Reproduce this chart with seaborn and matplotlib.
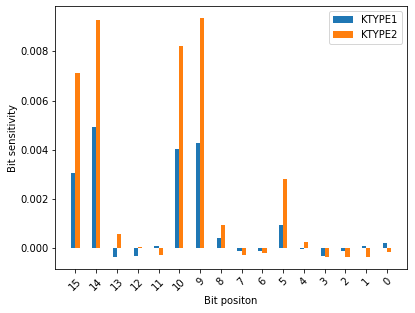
import matplotlib
matplotlib.use("Agg")
import matplotlib.pyplot as plt
import seaborn as sns
import pandas as pd

bits = ["15", "14", "13", "12", "11", "10", "9", "8", "7", "6", "5", "4", "3", "2", "1", "0"]
ktype1 = [3.05e-3, 4.92e-3, -0.37e-3, -0.30e-3, 0.08e-3, 4.02e-3, 4.27e-3, 0.42e-3,
          -0.13e-3, -0.11e-3, 0.95e-3, -0.05e-3, -0.31e-3, -0.12e-3, 0.07e-3, 0.19e-3]
ktype2 = [7.13e-3, 9.26e-3, 0.58e-3, 0.05e-3, -0.26e-3, 8.2e-3, 9.34e-3, 0.95e-3,
          -0.26e-3, -0.19e-3, 2.82e-3, 0.23e-3, -0.37e-3, -0.34e-3, -0.34e-3, -0.16e-3]
series = ["KTYPE1", "KTYPE2"]

df = pd.DataFrame({
    "bit": bits * 2,
    "value": ktype1 + ktype2,
    "series": [series[0]] * len(bits) + [series[1]] * len(bits),
})

DPI = 72
fig, ax = plt.subplots(figsize=(415 / DPI, 313 / DPI), dpi=DPI)
fig.subplots_adjust(left=55.3 / 415, right=406.7 / 415, top=1 - 6.3 / 313, bottom=1 - 269.3 / 313)

sns.barplot(data=df, x="bit", y="value", hue="series", order=bits, hue_order=series,
            palette=["#1f77b4", "#ff7f0e"], saturation=1, width=0.4, linewidth=0,
            ax=ax, errorbar=None)

ax.set_xlim(-0.97, 15.95)
ax.set_ylim(-0.86e-3, 9.83e-3)
ax.set_xlabel("Bit positon")
ax.set_ylabel("Bit sensitivity", labelpad=1.5)
plt.setp(ax.get_xticklabels(), rotation=45)
ax.legend(loc="upper right", title=None)

fig.savefig("out.png", dpi=DPI)
